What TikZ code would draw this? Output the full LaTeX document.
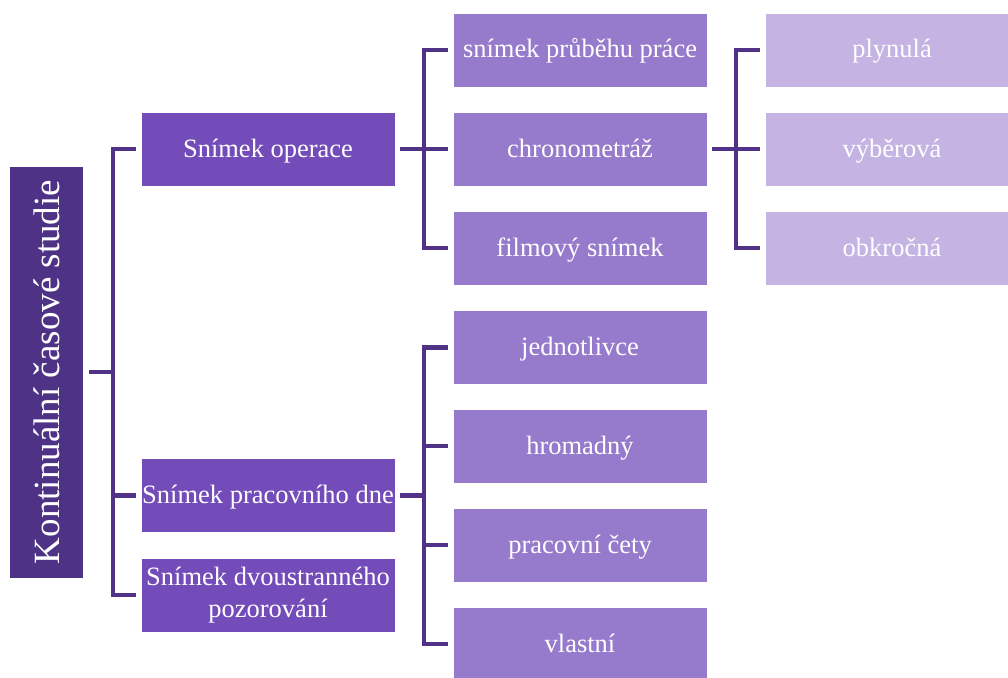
\documentclass[tikz,border=0pt]{standalone}
\usepackage{fontspec}
\setmainfont{Liberation Serif}
\definecolor{cRoot}{RGB}{78,50,134}
\definecolor{cOne}{RGB}{115,76,186}
\definecolor{cTwo}{RGB}{150,122,203}
\definecolor{cThree}{RGB}{196,179,227}
\definecolor{cLine}{RGB}{80,50,135}
\begin{document}
\begin{tikzpicture}[x=1pt,y=-1pt,
  box/.style={rectangle, draw=white, line width=0.6pt, text=white, inner sep=0pt,
    minimum width=254pt, minimum height=74pt, align=center,
    text height=20pt, text depth=4pt,
    font=\fontsize{26.5}{32}\selectfont},
  rootbox/.style={rectangle, draw=white, line width=0.6pt, fill=cRoot, text=white,
    inner sep=0pt, minimum width=74pt, minimum height=412pt,
    font=\fontsize{37}{40}\selectfont},
  lone/.style={box, fill=cOne},
  ltwo/.style={box, fill=cTwo},
  lthree/.style={box, fill=cThree},
  conn/.style={draw=cLine, line width=4.5pt}
]
\useasboundingbox (0,0) rectangle (1008,677);

\node[rootbox] (root) at (46.5,372) {\rotatebox{90}{Kontinuální časové studie}};

\node[lone] (so) at (268,149) {Snímek operace};
\node[lone] (spd) at (268,495.5) {Snímek pracovního dne};
\node[lone, text height={}, text depth={}] (sdp) at (268,595) {Snímek dvoustranného\\pozorování};

\node[ltwo] (spp) at (580,50) {snímek průběhu práce};
\node[ltwo] (chr) at (580,149) {chronometráž};
\node[ltwo] (fs) at (580,248) {filmový snímek};
\node[ltwo] (jed) at (580,347.5) {jednotlivce};
\node[ltwo] (hro) at (580,446) {hromadný};
\node[ltwo] (pc) at (580,545) {pracovní čety};
\node[ltwo] (vla) at (580,644) {vlastní};

\node[lthree] (ply) at (892,50) {plynulá};
\node[lthree] (vyb) at (892,149) {výběrová};
\node[lthree] (obk) at (892,248) {obkročná};

% buses
\coordinate (bA) at (113,0);
\coordinate (bB) at (424,0);
\coordinate (bC) at (736,0);

% root -> level 1
\draw[conn] ([xshift=5pt]root.east) -- (root.east -| bA);
\draw[conn] ([xshift=-5pt]so.west) -- (so.west -| bA) -- (sdp.west -| bA) -- ([xshift=-5pt]sdp.west);
\draw[conn] (spd.west -| bA) -- ([xshift=-5pt]spd.west);

% Snímek operace -> level 2
\draw[conn] ([xshift=5pt]so.east) -- (so.east -| bB);
\draw[conn] ([xshift=-5pt]spp.west) -- (spp.west -| bB) -- (fs.west -| bB) -- ([xshift=-5pt]fs.west);
\draw[conn] (chr.west -| bB) -- ([xshift=-5pt]chr.west);

% chronometráž -> level 3
\draw[conn] ([xshift=5pt]chr.east) -- (chr.east -| bC);
\draw[conn] ([xshift=-5pt]ply.west) -- (ply.west -| bC) -- (obk.west -| bC) -- ([xshift=-5pt]obk.west);
\draw[conn] (vyb.west -| bC) -- ([xshift=-5pt]vyb.west);

% Snímek pracovního dne -> level 2
\draw[conn] ([xshift=5pt]spd.east) -- (spd.east -| bB);
\draw[conn] ([xshift=-5pt]jed.west) -- (jed.west -| bB) -- (vla.west -| bB) -- ([xshift=-5pt]vla.west);
\draw[conn] (hro.west -| bB) -- ([xshift=-5pt]hro.west);
\draw[conn] (pc.west -| bB) -- ([xshift=-5pt]pc.west);
\end{tikzpicture}
\end{document}
